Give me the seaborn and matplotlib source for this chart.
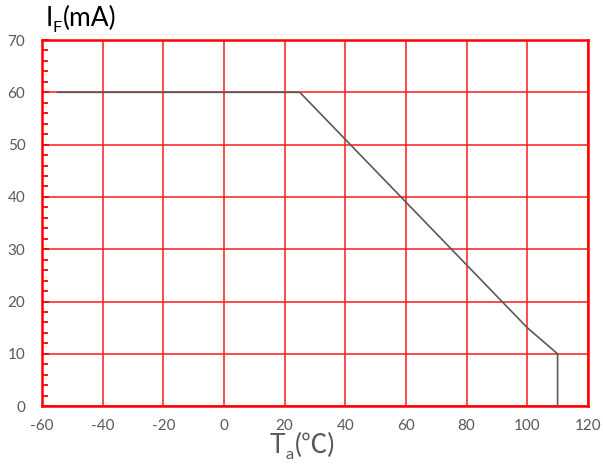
import matplotlib
matplotlib.use("Agg")
import matplotlib.pyplot as plt
import seaborn as sns
import pandas as pd
from matplotlib.ticker import MultipleLocator

# derating curve: forward current vs ambient temperature
temp_c = [-55, 25, 100, 110, 110]
current_ma = [60, 60, 15, 10, 0]

x_ticks = list(range(-60, 121, 20))
y_ticks = list(range(0, 71, 10))

sns.set_theme(style="white")
plt.rcParams['font.family'] = ['Lato', 'Noto Sans CJK SC', 'DejaVu Sans']
plt.rcParams['axes.unicode_minus'] = False

df = pd.DataFrame({"Ta": temp_c, "IF": current_ma})

fig = plt.figure(figsize=(6.03, 4.69), dpi=100)
ax = fig.add_axes([0.0697, 0.134, 0.9053, 0.7807])

sns.lineplot(data=df, x="Ta", y="IF", sort=False, estimator=None,
             color="#595959", linewidth=1.2, ax=ax, zorder=3)

ax.set_xlim(-60, 120)
ax.set_ylim(0, 70)
ax.set_xticks(x_ticks)
ax.set_yticks(y_ticks)
ax.yaxis.set_minor_locator(MultipleLocator(2))

ax.grid(True, which="major", color="#ff1a1a", linewidth=1.1, zorder=1)
for s in ax.spines.values():
    s.set_color("#ff0000")
    s.set_linewidth(1.8)

ax.tick_params(axis="y", which="minor", direction="in", length=4,
               width=1.3, color="#ff0000", left=True)
ax.tick_params(axis="y", which="major", direction="in", length=5,
               width=1.3, color="#ff0000", left=True)
ax.tick_params(axis="x", which="major", length=0, pad=9)
ax.tick_params(axis="both", labelsize=11, labelcolor="#595959")
ax.tick_params(axis="y", pad=12)
ax.set_xlabel("")
ax.set_ylabel("")


def sub_label(x, y, main, sub, tail, size, color):
    # main letter + lowered small subscript + the rest, placed in pixels
    fig.canvas.draw()
    r = fig.canvas.get_renderer()
    t1 = fig.text(x, y, main, fontsize=size, color=color, ha="left", va="baseline")
    b1 = t1.get_window_extent(r)
    x2 = b1.x1 / fig.bbox.width
    t2 = fig.text(x2, y - 0.014, sub, fontsize=size * 0.62, color=color,
                  ha="left", va="baseline")
    b2 = t2.get_window_extent(r)
    x3 = b2.x1 / fig.bbox.width + 0.002
    t3 = fig.text(x3, y, tail, fontsize=size, color=color, ha="left", va="baseline")
    return t1, t2, t3


sub_label(0.447, 0.035, "T", "a", "(\u2103)", 19, "#595959")
sub_label(0.075, 0.945, "I", "F", "(mA)", 19, "#000000")

fig.savefig("out.png", dpi=100)
